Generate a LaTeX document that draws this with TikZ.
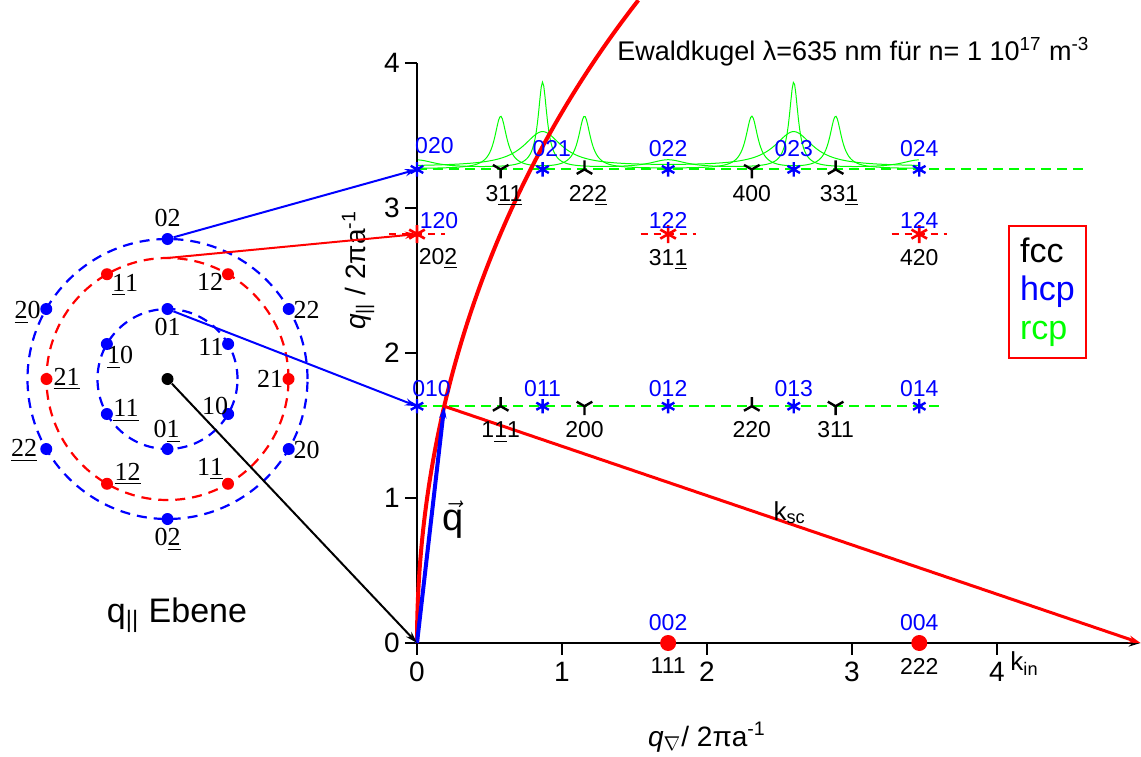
\documentclass[tikz,border=0pt]{standalone}
\usepackage{amsmath,amssymb}
\usepackage{fontspec}
\setmainfont{Liberation Sans}
\newfontfamily\seriffont{Liberation Serif}
\usetikzlibrary{arrows.meta,plotmarks}

\tikzset{
  axisline/.style={line width=1pt},
  arr/.style={-{Stealth[length=6pt,width=3.6pt]}},
  ring/.style={line width=1.1pt, dash pattern=on 5pt off 3.5pt},
  bdot/.style={circle, fill=blue, inner sep=0pt, minimum size=6pt},
  rdot/.style={circle, fill=red, inner sep=0pt, minimum size=6pt},
  kdot/.style={circle, fill=black, inner sep=0pt, minimum size=6pt},
  sl/.style={font=\seriffont\fontsize{13}{13}\selectfont, inner sep=0pt, text depth=0pt},
  hkl/.style={font=\fontsize{11.5}{11.5}\selectfont, inner sep=0pt, text depth=0pt},
  ticklab/.style={font=\fontsize{14}{14}\selectfont, inner sep=0pt},
  axlab/.style={font=\fontsize{14}{14}\selectfont, inner sep=0pt},
  row/.style={green, line width=1pt, dash pattern=on 5pt off 3pt},
  peak/.style={green, line width=0.5pt},
}

\begin{document}
\begin{tikzpicture}[x=72.5pt, y=72.5pt,
    declare function={lor(\p,\a,\g)=1/(1+((\p-\a)/\g)^2);}]
    \useasboundingbox (-2.8759,-0.7793) rectangle (4.9931,4.4345);

    % green profiles above the upper row
    \draw[peak] plot[domain=0:3.464, samples=401] (\x,{3.275+0.59*lor(\x,0.866,0.037)+0.59*lor(\x,2.598,0.037)+0.055*lor(\x,0,0.15)+0.055*lor(\x,1.732,0.15)+0.055*lor(\x,3.464,0.15)});
    \draw[peak] plot[domain=0:3.464, samples=401] (\x,{3.285+0.24*lor(\x,0.866,0.16)+0.24*lor(\x,2.598,0.16)});
    \draw[peak] plot[domain=0:3.464, samples=401] (\x,{3.27+0.36*lor(\x,0.577,0.05)+0.36*lor(\x,1.155,0.05)+0.36*lor(\x,2.309,0.05)+0.36*lor(\x,2.887,0.05)});

    % rows
    \draw[row] (0,1.633) -- (3.62,1.633);
    \draw[row] (0,3.266) -- (4.6,3.266);
    \foreach \xx in {0,1.732,3.464}
        \draw[red, line width=0.8pt, dash pattern=on 3.5pt off 3pt] (\xx-0.19,2.82) -- (\xx+0.19,2.82);

    % axes
    \coordinate (O) at (0,0);
    \coordinate (kend) at (4.99,0);
    \draw[axisline] (0,0) -- (0,4);
    \foreach \yy in {0,...,4} {
        \draw[axisline] (-0.083,\yy) -- (0,\yy);
        \node[ticklab, anchor=east] at (-0.117,\yy) {\yy};
    }
    \foreach \xx in {0,...,4} {
        \draw[axisline] (\xx,0) -- (\xx,-0.083);
        \node[ticklab] at (\xx,-0.2) {\xx};
    }
    \draw[axisline, arr] (O) -- (kend);
    \node[axlab, rotate=90] at (-0.407,2.57) {\textit{q}\textsubscript{||} / 2πa\textsuperscript{-1}};
    \node[axlab] at (2.0,-0.648) {\textit{q}$_{\nabla}$/ 2πa\textsuperscript{-1}};

    % Ewald sphere and vectors
    \draw[red, line width=2pt] (O) arc[start angle=180, end angle=142, radius=7.2];
    \coordinate (P) at (0.1876,1.633);
    \draw[blue, line width=2pt, arr] (O) -- (P);
    \draw[red, line width=1.5pt, arr] (P) -- (kend);
    \node[font=\fontsize{19}{19}\selectfont] (qvec) at (0.25,0.85) {$\vec{\mbox{q}}$};
    \node[font=\fontsize{13}{13}\selectfont] (ksc) at (2.57,0.9) {k\textsubscript{sc}};
    \node[font=\fontsize{13}{13}\selectfont] (kin) at (4.19,-0.14) {k\textsubscript{in}};
    \node[anchor=base west, inner sep=0pt, font=\fontsize{13.5}{13.5}\selectfont] (ewtxt) at (1.379,4.016)
        {Ewaldkugel λ=635 nm für n= 1 10\textsuperscript{17} m\textsuperscript{-3}};

    % markers
    \coordinate (s010) at (0,1.633);
    \coordinate (s020) at (0,3.266);
    \coordinate (s120) at (0,2.82);
    \draw[blue, line width=1.2pt] plot[only marks, mark=asterisk, mark size=3.6pt] coordinates
        {(0,1.633) (0.866,1.633) (1.732,1.633) (2.598,1.633) (3.464,1.633)
         (0,3.266) (0.866,3.266) (1.732,3.266) (2.598,3.266) (3.464,3.266)};
    \draw[red, line width=1.3pt] plot[only marks, mark=asterisk, mark size=4.5pt] coordinates
        {(0,2.82) (1.732,2.82) (3.464,2.82)};
    \draw[line width=1.2pt] plot[only marks, mark=Mercedes star, mark size=4.5pt] coordinates
        {(0.577,1.633) (2.309,1.633) (1.155,3.266) (2.887,3.266)};
    \draw[line width=1.2pt] plot[only marks, mark=Mercedes star flipped, mark size=4.5pt] coordinates
        {(1.155,1.633) (2.887,1.633) (0.577,3.266) (2.309,3.266)};
    \fill[red] (1.732,0) circle[radius=4pt];
    \fill[red] (3.464,0) circle[radius=4pt];

    % hkl labels
    \node[hkl, blue] at (0.10,1.753) {010};
    \foreach \xx/\lab in {0.866/011, 1.732/012, 2.598/013, 3.464/014}
        \node[hkl, blue] at (\xx,1.753) {\lab};
    \node[hkl, blue] at (0.12,3.43) {020};
    \foreach \xx/\lab in {0.93/021, 1.732/022, 2.598/023, 3.464/024}
        \node[hkl, blue] at (\xx,3.41) {\lab};
    \node[hkl, blue] at (0.152,2.917) {120};
    \node[hkl, blue] at (1.732,2.917) {122};
    \node[hkl, blue] at (3.464,2.917) {124};
    \node[hkl] at (0.145,2.666) {20\underline{2}};
    \node[hkl] at (1.732,2.66) {31\underline{1}};
    \node[hkl] at (3.464,2.66) {420};
    \node[hkl] at (0.6,3.10) {3\underline{11}};
    \node[hkl] at (1.18,3.10) {22\underline{2}};
    \node[hkl] at (2.309,3.10) {400};
    \node[hkl] at (2.91,3.10) {33\underline{1}};
    \node[hkl] at (0.577,1.47) {1\underline{1}1};
    \node[hkl] at (1.155,1.47) {200};
    \node[hkl] at (2.309,1.47) {220};
    \node[hkl] at (2.887,1.47) {311};
    \node[hkl, blue] at (1.732,0.145) {002};
    \node[hkl, blue] at (3.464,0.145) {004};
    \node[hkl] at (1.732,-0.155) {111};
    \node[hkl] at (3.464,-0.16) {222};

    % legend
    \node[draw=red, line width=1pt, minimum width=38.5pt, minimum height=66pt, align=left,
          font=\fontsize{17}{19.3}\selectfont] (leg) at (4.348,2.421)
          {fcc\\\textcolor{blue}{hcp}\\\textcolor{green}{rcp}};

    % q_par plane
    \begin{scope}[shift={(-124.75pt,132pt)}, x=0.5pt, y=0.5pt]
        \draw[blue, ring] (0,0) circle[radius=70];
        \draw[red, ring] (0,0) circle[radius=121];
        \draw[blue, ring] (0,0) circle[radius=140];
        \coordinate (rtop) at (90:121);
        \node[kdot] (c) at (0,0) {};
        \foreach \ang/\nm in {90/b01, 30/b11, -30/b10, -90/b0m, -150/bmm, 150/bm0}
            \node[bdot] (\nm) at (\ang:70) {};
        \foreach \ang/\nm in {90/b02, 30/b22, -30/b20, -90/b0n, -150/bnn, 150/bn0}
            \node[bdot] (\nm) at (\ang:140) {};
        \foreach \ang/\nm in {0/r21, 60/r12, 120/rm1, 180/rmm, 240/rnn, 300/r1m}
            \node[rdot] (\nm) at (\ang:121) {};
        \node[sl] at (0,161) {02};
        \node[sl] at (0,52) {01};
        \node[sl] at (43.5,32) {11};
        \node[sl] at (47.5,-27) {10};
        \node[sl] at (-0.8,-50.3) {0\underline{1}};
        \node[sl] at (-41.5,-29.3) {\underline{11}};
        \node[sl] at (-47.5,24) {\underline{1}0};
        \node[sl] at (102.5,-0.3) {21};
        \node[sl] at (42.5,97.3) {12};
        \node[sl] at (-42.5,96.3) {\underline{1}1};
        \node[sl] at (-100.8,2.3) {\underline{21}};
        \node[sl] at (-39.8,-92.7) {\underline{12}};
        \node[sl] at (42.5,-87.7) {1\underline{1}};
        \node[sl] at (139,69) {22};
        \node[sl] at (139,-71) {20};
        \node[sl] at (0,-158) {0\underline{2}};
        \node[sl] at (-143.5,-69.3) {\underline{22}};
        \node[sl] at (-140,69) {\underline{2}0};
        \node[font=\fontsize{17}{17}\selectfont] (plane) at (9.5,-236) {q\textsubscript{||} Ebene};
    \end{scope}

    % connections to the diagram
    \draw[blue, line width=1pt, arr] (b02) -- (s020);
    \draw[blue, line width=1pt, arr] (b01) -- (s010);
    \draw[red, line width=1pt, arr] (rtop) -- (s120);
    \draw[line width=1pt, arr] (c) -- (O);
\end{tikzpicture}
\end{document}
